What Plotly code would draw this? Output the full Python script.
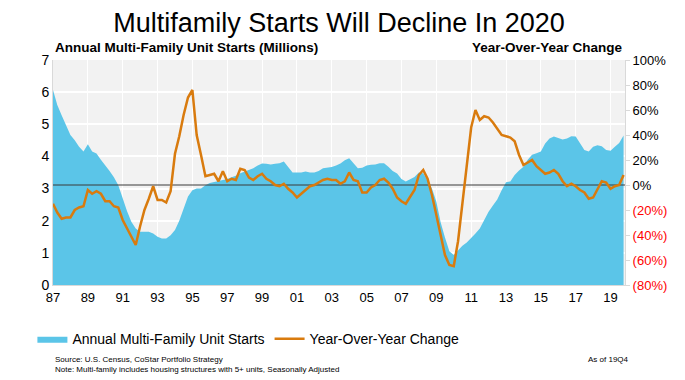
import pandas as pd
import plotly.graph_objects as go

# Quarterly observations, 1987Q1 .. 2019Q4
quarters = pd.date_range("1987-01-01", periods=132, freq="QS")

starts_millions = [
    6.07, 5.60, 5.28, 5.00,  # 1987
    4.67, 4.50, 4.30, 4.15,  # 1988
    4.38, 4.15, 4.09, 3.90,  # 1989
    3.73, 3.55, 3.35, 3.10,  # 1990
    2.70, 2.30, 1.97, 1.76,  # 1991
    1.66, 1.65, 1.66, 1.60,  # 1992
    1.50, 1.45, 1.45, 1.55,  # 1993
    1.71, 2.00, 2.35, 2.75,  # 1994
    2.95, 3.00, 3.00, 3.10,  # 1995
    3.17, 3.20, 3.22, 3.27,  # 1996
    3.30, 3.35, 3.40, 3.48,  # 1997
    3.53, 3.58, 3.63, 3.72,  # 1998
    3.78, 3.77, 3.75, 3.77,  # 1999
    3.79, 3.84, 3.68, 3.50,  # 2000
    3.50, 3.50, 3.53, 3.50,  # 2001
    3.50, 3.55, 3.63, 3.65,  # 2002
    3.67, 3.72, 3.78, 3.88,  # 2003
    3.94, 3.79, 3.63, 3.65,  # 2004
    3.72, 3.74, 3.75, 3.79,  # 2005
    3.79, 3.68, 3.55, 3.47,  # 2006
    3.30, 3.22, 3.30, 3.36,  # 2007
    3.50, 3.48, 3.25, 3.00,  # 2008
    2.59, 1.95, 1.48, 1.05,  # 2009
    0.93, 1.08, 1.22, 1.32,  # 2010
    1.45, 1.60, 1.76, 2.00,  # 2011
    2.28, 2.47, 2.66, 2.95,  # 2012
    3.20, 3.22, 3.42, 3.56,  # 2013
    3.68, 3.90, 4.05, 4.10,  # 2014
    4.15, 4.40, 4.56, 4.62,  # 2015
    4.58, 4.53, 4.56, 4.63,  # 2016
    4.62, 4.40, 4.20, 4.15,  # 2017
    4.30, 4.35, 4.32, 4.20,  # 2018
    4.18, 4.30, 4.42, 4.65,  # 2019
]

yoy_change_pct = [
    -15, -22, -27, -26,  # 1987
    -26, -20, -18, -17,  # 1988
    -4, -7, -5, -7,      # 1989
    -13, -13, -17, -18,  # 1990
    -28, -35, -41, -48,  # 1991
    -33, -20, -11, -1,   # 1992
    -12, -12, -14, -5,   # 1993
    25, 39, 56, 70,      # 1994
    76, 40, 24, 7,       # 1995
    8, 9, 3, 11,         # 1996
    3, 5, 4, 13,         # 1997
    12, 6, 4, 7,         # 1998
    9, 5, 3, 0,          # 1999
    -1, 1, -3, -6,       # 2000
    -10, -7, -4, -1,     # 2001
    0, 2, 4, 5,          # 2002
    4, 4, 1, 3,          # 2003
    10, 4, 3, -6,        # 2004
    -6, -2, 0, 4,        # 2005
    5, 2, -3, -10,       # 2006
    -13, -15, -9, -4,    # 2007
    8, 12, 5, -8,        # 2008
    -24, -39, -56, -64,  # 2009
    -65, -45, -16, 18,   # 2010
    46, 60, 52, 55,      # 2011
    54, 50, 45, 40,      # 2012
    39, 38, 35, 24,      # 2013
    16, 18, 20, 15,      # 2014
    12, 9, 10, 12,       # 2015
    9, 3, -1, 1,         # 2016
    -1, -4, -6, -11,     # 2017
    -10, -3, 3, 2,       # 2018
    -3, -1, 0, 8,        # 2019
]

left_ticks = [0, 1, 2, 3, 4, 5, 6, 7]
right_ticks = [-80, -60, -40, -20, 0, 20, 40, 60, 80, 100]
right_tick_labels = [
    "<span style='color:#ff0000'>(80%)</span>",
    "<span style='color:#ff0000'>(60%)</span>",
    "<span style='color:#ff0000'>(40%)</span>",
    "<span style='color:#ff0000'>(20%)</span>",
    "0%", "20%", "40%", "60%", "80%", "100%",
]

FONT = "Liberation Sans, Arial, sans-serif"
x_end = quarters[-1] + pd.Timedelta(days=30)

fig = go.Figure()

fig.add_trace(go.Scatter(
    x=quarters, y=starts_millions, name="Annual Multi-Family Unit Starts",
    mode="lines", line=dict(width=0, color="#5BC5E8"),
    fill="tozeroy", fillcolor="#5BC5E8", yaxis="y",
))

fig.add_trace(go.Scatter(
    x=[quarters[0], x_end], y=[0, 0],
    mode="lines", line=dict(color="#3A3A3A", width=1),
    yaxis="y2", showlegend=False, hoverinfo="skip",
))

fig.add_trace(go.Scatter(
    x=quarters, y=yoy_change_pct, name="Year-Over-Year Change",
    mode="lines", line=dict(width=2.5, color="#D97B0E"),
    yaxis="y2",
))

# the page body adds an 8px offset, so the figure is 8px smaller
fig.update_layout(
    width=677, height=372,
    margin=dict(l=45, r=60, t=52, b=95, autoexpand=False),
    paper_bgcolor="white", plot_bgcolor="#F2F2F2",
    font=dict(family=FONT, size=13, color="black"),
    title=dict(text="Multifamily Starts Will Decline In 2020",
               x=0.5, xanchor="center", xref="paper", y=0.985, yanchor="top",
               font=dict(family=FONT, size=27, color="black")),
    showlegend=True,
    legend=dict(orientation="h", x=-0.036, xanchor="left", y=-0.17, yanchor="top",
                font=dict(family=FONT, size=14), itemwidth=30,
                bgcolor="rgba(0,0,0,0)", tracegroupgap=0),
    xaxis=dict(
        type="date",
        range=[quarters[0], x_end],
        tickformat="%y", dtick="M24", tick0="1987-01-01",
        showgrid=True, gridcolor="white", gridwidth=1,
        showline=True, linecolor="#D9D9D9", ticks="",
        tickfont=dict(size=13), zeroline=False, automargin=False,
    ),
    yaxis=dict(
        range=[0, 7], tickvals=left_ticks,
        showgrid=True, gridcolor="white", gridwidth=1.5,
        showline=True, linecolor="#D9D9D9", zeroline=False,
        tickfont=dict(size=14), ticks="", automargin=False,
    ),
    yaxis2=dict(
        overlaying="y", side="right", range=[-80, 100],
        tickvals=right_ticks, ticktext=right_tick_labels,
        showgrid=False, zeroline=False, showline=True, linecolor="#D9D9D9",
        ticks="outside", ticklen=4, tickcolor="#D9D9D9",
        tickfont=dict(size=13), automargin=False,
    ),
    annotations=[
        dict(text="<b>Annual Multi-Family Unit Starts (Millions)</b>",
             xref="paper", yref="paper", x=0.0, y=1.015, xanchor="left", yanchor="bottom",
             showarrow=False, font=dict(family=FONT, size=13.5)),
        dict(text="<b>Year-Over-Year Change</b>",
             xref="paper", yref="paper", x=1.0, y=1.015, xanchor="right", yanchor="bottom",
             showarrow=False, font=dict(family=FONT, size=13.5)),
        dict(text="Source: U.S. Census, CoStar Portfolio Strategy<br>Note: Multi-family includes housing structures with 5+ units, Seasonally Adjusted",
             xref="paper", yref="paper", x=0.0, y=-0.30, xanchor="left", yanchor="top",
             align="left", showarrow=False, font=dict(family=FONT, size=8)),
        dict(text="As of 19Q4",
             xref="paper", yref="paper", x=1.0, y=-0.30, xanchor="right", yanchor="top",
             xshift=6, showarrow=False, font=dict(family=FONT, size=8)),
    ],
)

fig.write_html("out.html")
